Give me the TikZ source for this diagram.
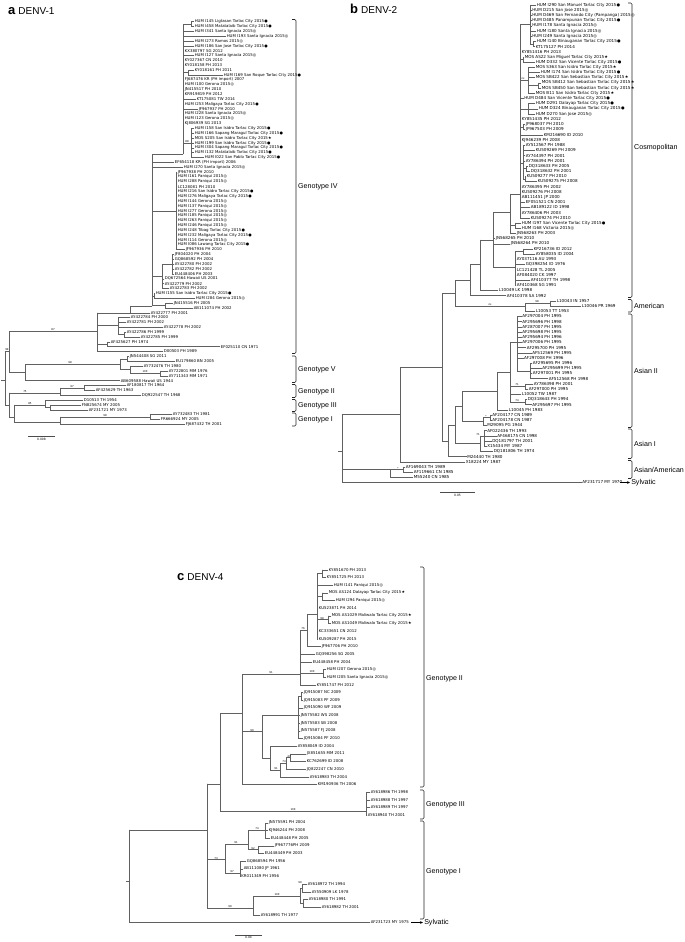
\documentclass[tikz,border=0pt]{standalone}
\usepackage{fontspec}
\setmainfont{DejaVu Sans}
\newfontfamily\labfont{Liberation Sans}
\usetikzlibrary{arrows.meta}
\newcommand\symD{\kern0.2pt●}
\newcommand\symS{\kern0.2pt★}
\newcommand\symC{\kern0.2pt◎}
% panel a (row k -> y)
\newcommand\tah[3]{\draw[br] (#1,{21.7+4.85*(#3)}) -- (#2,{21.7+4.85*(#3)});}
\newcommand\tav[3]{\draw[br] (#1,{21.7+4.85*(#2)}) -- (#1,{21.7+4.85*(#3)});}
\newcommand\tal[4]{\draw[br] (#1,{21.7+4.85*(#3)}) -- (#2,{21.7+4.85*(#3)}) node[lfa]{#4};}
\newcommand\tas[3]{\node[bs] at (#1,{21.7+4.85*(#2)}) {#3};}
% panel b
\newcommand\tbh[3]{\draw[br] (#1,{5+5.19*(#3)}) -- (#2,{5+5.19*(#3)});}
\newcommand\tbv[3]{\draw[br] (#1,{5+5.19*(#2)}) -- (#1,{5+5.19*(#3)});}
\newcommand\tbl[4]{\draw[br] (#1,{5+5.19*(#3)}) -- (#2,{5+5.19*(#3)}) node[lfb]{#4};}
\newcommand\tbs[3]{\node[bs] at (#1,{5+5.19*(#2)}) {#3};}
% panel c
\newcommand\tch[3]{\draw[br] (#1,{569.7+7.67*(#3)}) -- (#2,{569.7+7.67*(#3)});}
\newcommand\tcv[3]{\draw[br] (#1,{569.7+7.67*(#2)}) -- (#1,{569.7+7.67*(#3)});}
\newcommand\tcl[4]{\draw[br] (#1,{569.7+7.67*(#3)}) -- (#2,{569.7+7.67*(#3)}) node[lfc]{#4};}
\newcommand\tcs[3]{\node[bs] at (#1,{569.7+7.67*(#2)}) {#3};}
% bracket with group label
\newcommand\grp[5]{\draw[bk] (#1-4,#2) -- (#1,#2) -- (#1,#3) -- (#1-4,#3);
  \node[gl] at (#1+1.5,#4) {#5};}
\begin{document}
\begin{tikzpicture}[x=1pt,y=-1pt,
  br/.style={draw=black!62,line width=0.4pt,line cap=rect},
  lfa/.style={anchor=west,inner sep=0.6pt,font=\fontsize{3.9}{4}\selectfont},
  lfb/.style={anchor=west,inner sep=0.6pt,font=\fontsize{4.1}{4.5}\selectfont},
  lfc/.style={anchor=west,inner sep=0.6pt,font=\fontsize{3.9}{4.5}\selectfont},
  bs/.style={anchor=south,inner sep=0.3pt,font=\fontsize{2.6}{3}\selectfont},
  bk/.style={draw=black!85,line width=0.6pt,rounded corners=1.2pt},
  gl/.style={anchor=west,inner sep=0.5pt,font=\labfont\fontsize{7.1}{8}\selectfont},
  ttl/.style={anchor=west,inner sep=0pt,font=\labfont\fontsize{10}{11}\selectfont},
  sc/.style={draw=black!70,line width=0.5pt},
  sct/.style={anchor=north,inner sep=0.5pt,font=\fontsize{3}{3.5}\selectfont}]
\fill[white] (0,0) rectangle (685,942);
\useasboundingbox (0,0) rectangle (685,942);

% ================= PANEL A : DENV-1 =================
\node[ttl] (ta) at (8,11) {{\fontsize{13}{13}\selectfont\bfseries a}\hspace{3pt}DENV-1};
\tav{183}{0.5}{27.3}\tah{152}{183}{27.3}
\tav{191}{0}{1}\tah{183}{191}{0.5}
\tal{191}{194}{0}{HUM I145 Ligtasan Tarlac City 2015\symD}
\tal{191}{194}{1}{HUM I458 Matatalaib Tarlac City 2015\symD}
\tal{183}{194}{2}{HUM I341 Santa Ignacia 2015\symC}
\tal{183}{226}{3}{HUM I193 Santa Ignacia 2015\symC}
\tal{183}{194}{4}{HUM I273 Ramos 2015\symC}
\tal{183}{194}{5}{HUM I186 San Jose Tarlac City 2015\symD}
\tal{183}{184}{6}{KX380797 SG 2012}
\tal{183}{194}{7}{HUM I127 Santa Ignacia 2015\symC}
\tal{183}{184}{8}{KY027367 CN 2010}
\tal{183}{184}{9}{KY018158 PH 2013}
\tav{188}{10}{11}\tah{183}{188}{10.5}
\tal{188}{194}{10}{KY018161 PH 2011}
\tal{188}{223}{11}{HUM I169 San Roque Tarlac City 2015\symD}
\tal{183}{184}{12}{FJ687476 KR (PH import) 2007}
\tal{183}{184}{13}{HUM I100 Gerona 2015\symC}
\tal{183}{184}{14}{JN415517 PH 2010}
\tal{183}{184}{15}{KR919819 PH 2012}
\tal{183}{196}{16}{KT175081 TW 2014}
\tal{183}{184}{17}{HUM I253 Maligaya Tarlac City 2015\symD}
\tal{183}{198}{18}{JF967937 PH 2010}
\tal{183}{184}{19}{HUM I228 Santa Ignacia 2015\symC}
\tal{183}{184}{20}{HUM I123 Gerona 2015\symC}
\tal{183}{184}{21}{KJ806939 SG 2013}
\tav{191}{22}{28}\tah{183}{191}{25}\tas{187}{25}{88}
\tal{191}{194}{22}{HUM I158 San Isidro Tarlac City 2015\symD}
\tal{191}{194}{23}{HUM I166 Sapang Maragul Tarlac City 2015\symD}
\tal{191}{194}{24}{MOS S205 San Isidro Tarlac City 2015\symS}
\tal{191}{194}{25}{HUM I199 San Isidro Tarlac City 2015\symD}
\tal{191}{194}{26}{HUM I304 Sapang Maragul Tarlac City 2015\symD}
\tal{191}{194}{27}{HUM I132 Matatalaib Tarlac City 2015\symD}
\tal{191}{204}{28}{HUM I022 San Pablo Tarlac City 2015\symD}
\tav{152}{27.3}{58.6}
\tal{152}{174}{29}{EF654118 KR (PH import) 2006}
\tal{152}{183}{30}{HUM I270 Santa Ignacia 2015\symC}
\tav{176}{31}{47}\tah{152}{176}{39}
\tal{176}{177}{31}{JF967938 PH 2010}
\tal{176}{177}{32}{HUM I161 Paniqui 2015\symC}
\tal{176}{177}{33}{HUM I288 Paniqui 2015\symC}
\tal{176}{177}{34}{LC128081 PH 2010}
\tal{176}{177}{35}{HUM I216 San Isidro Tarlac City 2015\symD}
\tal{176}{177}{36}{HUM I276 Maligaya Tarlac City 2015\symD}
\tal{176}{177}{37}{HUM I144 Gerona 2015\symC}
\tal{176}{177}{38}{HUM I137 Paniqui 2015\symC}
\tal{176}{177}{39}{HUM I277 Gerona 2015\symC}
\tal{176}{177}{40}{HUM I185 Paniqui 2015\symC}
\tal{176}{177}{41}{HUM I263 Paniqui 2015\symC}
\tal{176}{177}{42}{HUM I246 Paniqui 2015\symC}
\tal{176}{177}{43}{HUM I248 Tibag Tarlac City 2015\symD}
\tal{176}{177}{44}{HUM I232 Maligaya Tarlac City 2015\symD}
\tal{176}{177}{45}{HUM I114 Gerona 2015\symC}
\tal{176}{177}{46}{HUM I086 Lawang Tarlac City 2015\symD}
\tal{176}{185}{47}{JF967936 PH 2010}
\tav{172}{48}{52}\tah{162}{172}{50}
\tav{162}{50}{55}\tah{152}{162}{52.5}
\tal{172}{174}{48}{JF804020 PH 2004}
\tal{172}{174}{49}{GQ868592 PH 2004}
\tal{172}{174}{50}{AY422780 PH 2002}
\tal{172}{174}{51}{AY422782 PH 2002}
\tal{172}{174}{52}{EU448406 PH 2003}
\tal{162}{164}{53}{DQ672564 Hawaii US 2001}
\tal{162}{164}{54}{AY422779 PH 2002}
\tal{162}{169}{55}{AY422783 PH 2002}
\tav{154}{56}{57}\tah{152}{154}{56.5}
\tal{154}{155}{56}{HUM I155 San Isidro Tarlac City 2015\symD}
\tal{154}{195}{57}{HUM I284 Gerona 2015\symC}
\tav{165}{58}{59}\tah{152}{165}{58.5}
\tal{165}{173}{58}{JN415516 PH 2005}
\tal{165}{193}{59}{AB111074 PH 2002}
\tav{130}{58.6}{60}\tah{130}{152}{58.6}
\tal{130}{150}{60}{AY422777 PH 2001}
\tav{97}{60}{68}\tah{97}{130}{60}
\tav{118}{61}{64.5}\tah{97}{118}{62.5}
\tal{118}{130}{61}{AY422784 PH 2000}
\tal{118}{126}{62}{AY422781 PH 2002}
\tal{118}{163}{63}{AY422778 PH 2002}
\tav{124}{64}{65}\tah{118}{124}{64.5}
\tal{124}{126}{64}{AY422786 PH 1999}
\tal{124}{140}{65}{AY422785 PH 1999}
\tav{107}{66}{67}\tah{97}{107}{66.5}
\tal{107}{110}{66}{AF425627 PH 1974}
\tal{107}{220}{67}{EF025110 CN 1971}
\tal{97}{163}{68}{D00503 PH 1989}
\tah{9}{97}{63.8}\tas{53}{63.8}{87}
\tav{9}{63.8}{72.3}
\tav{25}{70.6}{74}\tah{9}{25}{72.3}
\tav{120}{69.5}{71.75}\tah{25}{120}{70.6}\tas{70}{70.6}{98}
\tav{127}{69}{70}\tah{120}{127}{69.5}
\tal{127}{129}{69}{JN544408 SG 2011}
\tal{127}{175}{70}{EU179860 BN 2005}
\tav{130}{71}{72.5}\tah{120}{130}{71.75}
\tal{130}{143}{71}{AY732476 TH 1980}
\tav{160}{72}{73}\tah{130}{160}{72.5}\tas{145}{72.5}{100}
\tal{160}{168}{72}{AY722801 MM 1976}
\tal{160}{168}{73}{AY711343 MM 1971}
\tal{25}{120}{74}{AB609588 Hawaii US 1944}
\tav{5}{68}{79}\tah{1}{5}{74}\tah{5}{9}{68}\tas{7}{68}{99}
\tav{9}{76.5}{81.5}\tah{5}{9}{79}
\tah{9}{60}{76.5}\tas{25}{76.5}{75}
\tav{60}{75.5}{77}
\tav{84}{75}{76}\tah{60}{84}{75.5}\tas{72}{75.5}{97}
\tal{84}{126}{75}{AF180817 TH 1964}
\tal{84}{95}{76}{AF425629 TH 1963}
\tal{60}{141}{77}{DQ922547 TH 1968}
\tav{14}{79}{82.5}\tah{9}{14}{81.5}
\tav{45}{78}{79.5}\tah{14}{45}{79}\tas{30}{79}{85}
\tal{45}{83}{78}{D10513 TH 1954}
\tav{50}{79}{80}\tah{45}{50}{79.5}
\tal{50}{81}{79}{FN825674 MY 2005}
\tal{50}{88}{80}{AF231721 MY 1973}
\tav{60}{81.5}{83}\tah{14}{60}{82.5}
\tav{150}{81}{82}\tah{60}{150}{81.5}\tas{105}{81.5}{98}
\tal{150}{172}{81}{AY732483 TH 1981}
\tal{150}{160}{82}{FR666924 MY 2005}
\tal{60}{185}{83}{FJ687432 TH 2001}
\grp{296}{19.5}{353.5}{187}{Genotype IV}
\grp{296}{356}{382.5}{370}{Genotype V}
\grp{296}{384.5}{397.5}{392}{Genotype II}
\grp{296}{399.5}{411.5}{406}{Genotype III}
\grp{296}{413}{426}{420}{Genotype I}
\draw[sc] (28,436) -- (55,436) node[sct,midway,below=1.5pt] {0.008};

% ================= PANEL B : DENV-2 =================
\node[ttl] (tb) at (350,9) {{\fontsize{13}{13}\selectfont\bfseries b}\hspace{3pt}DENV-2};
\tbv{530}{0}{7.5}\tbh{520}{530}{3.75}
\tbl{530}{536}{0}{HUM I290 San Manuel Tarlac City 2015\symD}
\tbl{530}{531.5}{1}{HUM D215 San Jose 2015\symC}
\tbl{530}{531.5}{2}{HUM D469 San Fernando City (Pampanga) 2015\symC}
\tbl{530}{531.5}{3}{HUM D485 Panampunan Tarlac City 2015\symD}
\tbl{530}{531.5}{4}{HUM I178 Santa Ignacia 2015\symC}
\tbl{530}{536}{5}{HUM I180 Santa Ignacia 2015\symC}
\tbl{530}{531.5}{6}{HUM I249 Santa Ignacia 2015\symC}
\tbv{533}{7}{8}\tbh{530}{533}{7.5}
\tbl{533}{536}{7}{HUM I140 Binauganan Tarlac City 2015\symD}
\tbl{533}{535}{8}{KT175127 PH 2014}
\tbl{520}{521}{9}{KY851416 PH 2013}
\tbv{523.5}{10}{11}\tbh{520}{523.5}{10.5}
\tbl{523.5}{524}{10}{MOS AS22 San Miguel Tarlac City 2015\symS}
\tbl{523.5}{535}{11}{HUM D332 San Vicente Tarlac City 2015\symD}
\tbv{528}{12}{17}\tbh{520}{528}{14.5}\tbs{523}{14.5}{ns}
\tbl{528}{535}{12}{MOS S363 San Isidro Tarlac City 2015\symS}
\tbl{528}{540}{13}{HUM I174 San Isidro Tarlac City 2015\symD}
\tbl{528}{535}{14}{MOS SB422 San Sebastian Tarlac City 2015\symS}
\tbv{538}{15}{16}\tbh{528}{538}{15.5}
\tbl{538}{541}{15}{MOS SB412 San Sebastian Tarlac City 2015\symS}
\tbl{538}{541}{16}{MOS SB450 San Sebastian Tarlac City 2015\symS}
\tbl{528}{535}{17}{MOS B11 San Isidro Tarlac City 2015\symS}
\tbl{520}{523.5}{18}{HUM D484 San Vicente Tarlac City 2015\symD}
\tbv{528}{19}{21}\tbh{520}{528}{20}
\tbl{528}{535}{19}{HUM D291 Dalayap Tarlac City 2015\symD}
\tbl{528}{538}{20}{HUM D324 Binauganan Tarlac City 2015\symD}
\tbl{528}{535}{21}{HUM D270 San Jose 2015\symC}
\tbl{520}{521}{22}{KY851435 PH 2012}
\tbv{523}{23}{24}\tbh{520}{523}{23.5}
\tbl{523}{525}{23}{JF968037 PH 2010}
\tbl{523}{525}{24}{JF967503 PH 2009}
\tbl{520}{543}{25}{KM216690 ID 2010}
\tbl{520}{521}{26}{KJ946239 PH 2008}
\tbv{523}{27}{33.5}\tbh{520}{523}{30.5}
\tbl{523}{525}{27}{AY512567 PH 1988}
\tbl{523}{535}{28}{KU509269 PH 2009}
\tbl{523}{525}{29}{AY744397 PH 2001}
\tbl{523}{525}{30}{AY786394 PH 2001}
\tbv{526}{31}{32}\tbh{523}{526}{31.5}
\tbl{526}{528}{31}{DQ318633 PH 2005}
\tbl{526}{530}{32}{DQ318632 PH 2001}
\tbv{525}{33}{34}\tbh{523}{525}{33.5}
\tbl{525}{526}{33}{KU509277 PH 2010}
\tbl{525}{537}{34}{KU509275 PH 2008}
\tbl{520}{521}{35}{AY786395 PH 2002}
\tbl{520}{521}{36}{KU509276 PH 2008}
\tbl{520}{521}{37}{AB111451 JP 2000}
\tbl{520}{525}{38}{EF051521 CN 2001}
\tbl{520}{530}{39}{AB189122 ID 1998}
\tbl{520}{521}{40}{AY786406 PH 2003}
\tbl{520}{530}{41}{KU509274 PH 2010}
\tbv{520}{3.75}{41}
\tbv{510}{36.4}{44}\tbh{510}{520}{36.4}
\tbv{515}{42}{43}\tbh{510}{515}{42.5}
\tbl{515}{521}{42}{HUM I197 San Vicente Tarlac City 2015\symD}
\tbl{515}{521}{43}{HUM I168 Victoria 2015\symC}
\tbl{510}{516}{44}{JN568263 PH 2003}
\tbv{493}{40}{50.5}\tbh{493}{510}{40}
\tbl{493}{495}{45}{JN568265 PH 2010}
\tbl{493}{510}{46}{JN568264 PH 2010}
\tbv{515}{47.5}{54}\tbh{493}{515}{50.5}
\tbv{523}{47}{48}\tbh{515}{523}{47.5}
\tbl{523}{533}{47}{KP216736 ID 2012}
\tbl{523}{535}{48}{AY858035 ID 2004}
\tbl{515}{516}{49}{AY037116 AU 1993}
\tbl{515}{525}{50}{GQ398254 ID 1976}
\tbl{515}{516}{51}{LC121428 TL 2005}
\tbl{515}{516}{52}{AF084020 CK 1997}
\tbl{515}{530}{53}{AF410377 TH 1998}
\tbl{515}{516}{54}{AF410368 SG 1991}
\tbv{480}{45.25}{55}\tbh{480}{493}{45.25}
\tbl{480}{498}{55}{L10049 LK 1998}
\tbv{470}{50}{56}\tbh{470}{480}{50}
\tbl{470}{506}{56}{AF410378 SA 1992}
\tbv{455}{53}{58}\tbh{455}{470}{53}
\tbv{525}{57.5}{59}\tbh{455}{525}{58}\tbs{490}{58}{ns}
\tbv{550}{57}{58}\tbh{525}{550}{57.5}\tbs{537}{57.5}{98}
\tbl{550}{556}{57}{L10043 IN 1957}
\tbl{550}{581}{58}{L10046 PR 1969}
\tbl{525}{535}{59}{L10053 TT 1953}
\tbv{517}{60}{70.5}
\tbl{517}{521.5}{60}{AF297004 PH 1995}
\tbl{517}{521.5}{61}{AF295696 PH 1998}
\tbl{517}{521.5}{62}{AF287007 PH 1995}
\tbl{517}{521.5}{63}{AF295698 PH 1995}
\tbl{517}{521.5}{64}{AF295694 PH 1996}
\tbl{517}{521.5}{65}{AF297006 PH 1995}
\tbl{517}{526}{66}{AF295700 PH 1995}
\tbl{517}{531.5}{67}{AF512569 PH 1995}
\tbl{517}{523.3}{68}{AF297008 PH 1996}
\tbv{530}{69}{72}\tbh{517}{530}{70.5}
\tbl{530}{532}{69}{AF295695 PH 1996}
\tbl{530}{541.5}{70}{AF295699 PH 1995}
\tbl{530}{532}{71}{AF297001 PH 1995}
\tbl{530}{548}{72}{AF512568 PH 1998}
\tbv{510}{65}{76.5}\tbh{510}{517}{65}
\tbv{525}{73}{74}\tbh{510}{525}{73.5}\tbs{517}{73.5}{71}
\tbl{525}{533}{73}{AY786398 PH 2001}
\tbl{525}{528}{74}{AF297000 PH 1995}
\tbl{510}{521}{75}{L10052 TW 1987}
\tbv{525}{76}{77}\tbh{510}{525}{76.5}\tbs{517}{76.5}{74}
\tbl{525}{527}{76}{DQ318643 PH 1994}
\tbl{525}{531.5}{77}{AF295697 PH 1995}
\tbv{497}{70.75}{78}\tbh{497}{510}{70.75}
\tbl{497}{508}{78}{L10045 PH 1983}
\tbv{462}{74.4}{80.25}\tbh{462}{497}{74.4}
\tbv{483}{79.5}{81}\tbh{462}{483}{80.25}
\tbv{490}{79}{80}\tbh{483}{490}{79.5}\tbs{486}{79.5}{*}
\tbl{490}{491.5}{79}{AF204177 CN 1989}
\tbl{490}{491.5}{80}{AF204178 CN 1987}
\tbl{483}{486.5}{81}{M29095 PG 1944}
\tbv{480}{83}{86}
\tbv{484}{82}{85}\tbh{480}{484}{83}\tbs{478}{83}{71}
\tbl{484}{486.5}{82}{AF022436 TH 1993}
\tbl{484}{496.5}{83}{AF468175 CN 1998}
\tbl{484}{491.5}{84}{DQ181797 TH 2001}
\tbl{484}{486.5}{85}{X15434 MY 1987}
\tbl{480}{493}{86}{DQ181806 TH 1974}
\tbv{455}{77.3}{84.5}\tbh{455}{462}{77.3}\tbh{455}{480}{84.5}
\tbv{448}{80.9}{87}\tbh{448}{455}{80.9}
\tbl{448}{466.5}{87}{M24440 TH 1980}
\tbv{442}{55.5}{84}\tbh{442}{455}{55.5}\tbh{442}{448}{84}
\tbv{400}{69.75}{88}\tbh{400}{442}{69.75}
\tbl{400}{465}{88}{X18224 MY 1987}
\tbv{342}{78.9}{92}\tbh{342}{400}{78.9}\tbh{338}{342}{86}
\tbv{390}{89.5}{91}\tbh{342}{390}{89.5}
\tbv{403}{89}{90}\tbh{390}{403}{89.5}\tbs{398}{89.5}{*}
\tbl{403}{405}{89}{AF169043 TH 1989}
\tbl{403}{413}{90}{AF119661 CN 1985}
\tbl{390}{413}{91}{M55240 CN 1985}
\tbl{342}{581.5}{92}{AF231717 MY 1970}
\coordinate (sbA) at (620,482.5);
\coordinate (sbB) at (630,482.5);
\draw[line width=0.5pt,-{Stealth[length=3pt,width=2.6pt]}] (sbA) -- (sbB) node[gl,anchor=west,inner sep=1pt] {Sylvatic};
\grp{632}{3}{297.5}{148}{Cosmopolitan}
\grp{632}{299.5}{312}{306}{American}
\grp{632}{314}{427.5}{371}{Asian II}
\grp{632}{429}{458.5}{444}{Asian I}
\grp{632}{460.5}{478.5}{469.5}{Asian/American}
\draw[sc] (440,492) -- (475,492) node[sct,midway,below=1.5pt] {0.05};

% ================= PANEL C : DENV-4 =================
\node[ttl] (tc) at (177,577) {{\fontsize{13}{13}\selectfont\bfseries c}\hspace{3pt}DENV-4};
\tcv{129}{33.9}{46}\tch{126}{129}{40.6}
\tch{129}{207}{33.9}
\tcv{207}{27.9}{44.1}
\tch{207}{220}{27.9}
\tcv{220}{18.7}{31.5}
\tch{220}{366}{31.5}\tcs{293}{31.5}{100}
\tcv{366}{29}{32}
\tcl{366}{370}{29}{AY618986 TH 1998}
\tcl{366}{370}{30}{AY618988 TH 1997}
\tcl{366}{370}{31}{AY618989 TH 1997}
\tcl{366}{367}{32}{AY618940 TH 2001}
\tch{220}{242}{18.7}
\tcv{242}{13.6}{28}
\tcl{242}{317}{28}{KM190936 TH 2006}
\tch{242}{300}{13.6}\tcs{271}{13.6}{91}
\tcv{300}{7.9}{15}
\tch{300}{307}{7.9}\tcs{303}{7.9}{76}
\tcv{307}{5.8}{10}
\tch{307}{317}{5.8}
\tcv{317}{0.5}{9}
\tcv{322}{0}{1}\tch{317}{322}{0.5}
\tcl{322}{328}{0}{KY851670 PH 2013}
\tcl{322}{326}{1}{KY851725 PH 2013}
\tcl{317}{333}{2}{HUM I141 Paniqui 2015\symC}
\tcv{322}{3}{4}\tch{317}{322}{3.5}
\tcl{322}{328}{3}{MOS AS124 Dalayap Tarlac City 2015\symS}
\tcl{322}{335}{4}{HUM I294 Paniqui 2015\symC}
\tcl{317}{318}{5}{KU523871 PH 2014}
\tcv{328}{6}{7}\tch{317}{328}{6.5}\tcs{322}{6.5}{98}
\tcl{328}{331}{6}{MOS AS1029 Maliwalo Tarlac City 2015\symS}
\tcl{328}{331}{7}{MOS AS1049 Maliwalo Tarlac City 2015\symS}
\tcl{317}{318}{8}{KC333651 CN 2012}
\tcl{317}{318}{9}{KU509287 PH 2015}
\tcl{307}{321}{10}{JF967706 PH 2010}
\tcl{300}{315}{11}{GQ398256 SG 2005}
\tcl{300}{312}{12}{EU448458 PH 2004}
\tcv{323}{13}{14}\tch{300}{323}{13.5}\tcs{312}{13.5}{100}
\tcl{323}{326}{13}{HUM I207 Gerona 2015\symC}
\tcl{323}{326}{14}{HUM I205 Santa Ignacia 2015\symC}
\tcl{300}{316}{15}{KY851747 PH 2012}
\tcv{262}{19}{24.6}\tch{242}{262}{21.1}\tcs{252}{21.1}{99}
\tcv{298}{16.5}{22}\tch{262}{298}{19}
\tcv{301}{16}{17}\tch{298}{301}{16.5}
\tcl{301}{303}{16}{JQ915087 NC 2009}
\tcl{301}{303}{17}{JQ915083 PF 2009}
\tcl{298}{303}{18}{JQ915090 WF 2009}
\tcl{298}{300}{19}{JN575582 WS 2008}
\tcl{298}{300}{20}{JN575583 SB 2008}
\tcl{298}{300}{21}{JN575587 FJ 2008}
\tcl{298}{303}{22}{JQ915084 PF 2010}
\tcv{270}{23}{26.1}\tch{262}{270}{24.6}
\tcl{270}{297}{23}{AY858049 ID 2004}
\tcv{280}{25.25}{27}\tch{270}{280}{26.1}\tcs{276}{26.1}{91}
\tcv{286}{24.5}{26}\tch{280}{286}{25.25}\tcs{284}{25.25}{74}
\tcv{290}{24}{25}\tch{286}{290}{24.5}\tcs{289}{24.5}{47}
\tcl{290}{306}{24}{JX851655 MM 2011}
\tcl{290}{306}{25}{KC762699 ID 2008}
\tcl{286}{306}{26}{JQ822247 CN 2010}
\tcl{280}{309}{27}{AY618983 TH 2004}
\tch{207}{225}{37.8}\tcs{216}{37.8}{73}
\tcv{225}{35.8}{39.6}
\tch{225}{248}{35.8}\tcs{236}{35.8}{91}
\tcv{248}{34}{36.5}
\tch{248}{265}{34}\tcs{257}{34}{74}
\tcv{265}{33}{35}
\tcl{265}{268}{33}{JN575591 PH 2004}
\tcl{265}{268}{34}{KJ946244 PH 2008}
\tcl{265}{270}{35}{EU448448 PH 2005}
\tch{248}{258}{36.5}\tcs{253}{36.5}{92}
\tcv{258}{36}{37}
\tcl{258}{274}{36}{JF967776PH 2009}
\tcl{258}{264}{37}{EU448449 PH 2003}
\tch{225}{240}{39.6}\tcs{232}{39.6}{97}
\tcv{240}{38}{40}
\tcl{240}{246}{38}{GQ868594 PH 1956}
\tcl{240}{243}{39}{AB111080 JP 1961}
\tcl{240}{240.5}{40}{KR011349 PH 1956}
\tch{207}{253}{44.1}\tcs{230}{44.1}{99}
\tcv{253}{42.6}{45}
\tch{253}{300}{42.6}\tcs{277}{42.6}{100}
\tcv{300}{41.5}{43.5}
\tcv{302}{41}{42}\tch{300}{302}{41.5}\tcs{300}{41}{99}
\tcl{302}{307}{41}{AY618972 TH 1994}
\tcl{302}{311}{42}{AY550909 LK 1978}
\tcv{303}{43}{44}\tch{300}{303}{43.5}
\tcl{303}{308}{43}{AY618980 TH 1991}
\tcl{303}{321}{44}{AY618982 TH 2001}
\tcl{253}{260}{45}{AY618991 TH 1977}
\tcl{129}{370}{46}{AF231723 MY 1975}
\coordinate (scA) at (411,922.5);
\coordinate (scB) at (423,922.5);
\draw[line width=0.5pt,-{Stealth[length=3pt,width=2.6pt]}] (scA) -- (scB) node[gl,anchor=west,inner sep=1pt] {Sylvatic};
\grp{424}{567}{787}{679}{Genotype II}
\grp{424}{790}{819}{805}{Genotype III}
\grp{424}{821}{919}{871.5}{Genotype I}
\draw[sc] (235,935) -- (262,935) node[sct,midway,below=1pt] {0.04};
\end{tikzpicture}
\end{document}
